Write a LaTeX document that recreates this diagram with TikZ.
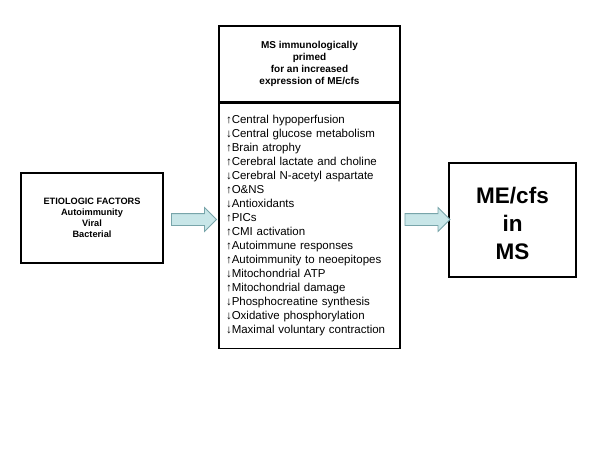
\documentclass[tikz,border=0pt]{standalone}
\usepackage{fontspec}
\setmainfont{Liberation Sans}
\usetikzlibrary{positioning,shapes.arrows,calc}
\definecolor{arrowfill}{RGB}{200,230,232}
\definecolor{arrowline}{RGB}{120,165,170}

\begin{document}
\begin{tikzpicture}[x=1pt,y=-1pt,
  box/.style={draw,line width=1.5pt,rectangle,inner sep=0pt,align=center},
  fatarrow/.style={single arrow,draw=arrowline,fill=arrowfill,line width=0.8pt,
    minimum height=45pt,inner xsep=0pt,inner ysep=5.5pt,
    single arrow head extend=6pt,single arrow head indent=0pt}]
  \useasboundingbox (0,0) rectangle (600,450);

  %etiology
  \node[box,minimum width=142pt,minimum height=90pt,font=\fontsize{9.2}{11}\selectfont\bfseries]
    (etio) at (92,218) {ETIOLOGIC FACTORS\\Autoimmunity\\Viral\\Bacterial};

  %immunologically primed MS
  \node[box,minimum width=181pt,minimum height=76pt,font=\fontsize{10}{12}\selectfont\bfseries]
    (primed) at (309.5,64) {MS immunologically\\primed\\for an increased\\expression of ME/cfs};
  \node[box,below=0pt of primed,minimum height=245pt,inner xsep=7pt,text width=167pt,
    align=left,font=\fontsize{11.5}{14}\selectfont] (changes) {%
    ↑Central hypoperfusion\\
    ↓Central glucose metabolism\\
    ↑Brain atrophy\\
    ↑Cerebral lactate and choline\\
    ↓Cerebral N-acetyl aspartate\\
    ↑O\&NS\\
    ↓Antioxidants\\
    ↑PICs\\
    ↑CMI activation\\
    ↑Autoimmune responses\\
    ↑Autoimmunity to neoepitopes\\
    ↓Mitochondrial ATP\\
    ↑Mitochondrial damage\\
    ↓Phosphocreatine synthesis\\
    ↓Oxidative phosphorylation\\
    ↓Maximal voluntary contraction};

  %outcome
  \node[box,minimum width=127pt,minimum height=114pt,font=\fontsize{22.5}{28}\selectfont\bfseries]
    (mecfs) at (512.5,220) {\rule{0pt}{24pt}ME/cfs\\in\\MS};

  %block arrows
  \node[fatarrow,yshift=2.5pt] (arrowA) at ($(etio.east)!0.5!(changes.west)$) {};
  \node[fatarrow,yshift=3.5pt] (arrowB) at ($(changes.east)!0.5!(mecfs.west)$) {};
\end{tikzpicture}
\end{document}
